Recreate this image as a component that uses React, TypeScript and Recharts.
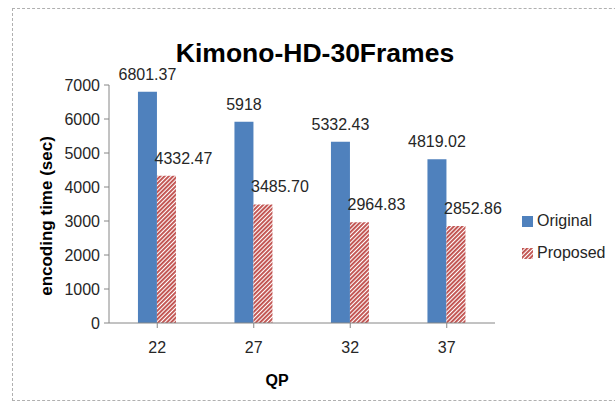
import React from 'react';
import { BarChart, Bar, XAxis, YAxis, LabelList } from 'recharts';

const categories = ['22', '27', '32', '37'];
const originalValues = [6801.37, 5918, 5332.43, 4819.02];
const proposedValues = [4332.47, 3485.7, 2964.83, 2852.86];
const yTicks = [0, 1000, 2000, 3000, 4000, 5000, 6000, 7000];

const data = categories.map((c, i) => ({
  qp: c,
  Original: originalValues[i],
  Proposed: proposedValues[i],
}));

const BLUE = '#4F81BD';
const RED = '#C0504D';
const FONT = "'Liberation Sans', Arial, sans-serif";

const fmt = (v: number) => (Number.isInteger(v) ? String(v) : v.toFixed(2));

const makeLabel = (dx: number) => (props: any) => {
  const { x, y, width, value } = props;
  return (
    <text
      x={Number(x) + Number(width) / 2 + dx}
      y={Number(y) - 12}
      textAnchor="middle"
      fontSize={16}
      fontFamily={FONT}
      fill="#262626"
    >
      {fmt(Number(value))}
    </text>
  );
};

export default function App() {
  return (
    <div style={{ position: 'absolute', left: 0, top: 0, width: 615, height: 408, background: '#fff', overflow: 'hidden', fontFamily: FONT }}>
      <div
        style={{
          position: 'absolute',
          left: 12,
          top: 8,
          width: 640,
          height: 393,
          border: '1px dashed #b0b0b0',
          boxSizing: 'border-box',
        }}
      />
      <div
        style={{
          position: 'absolute',
          left: 0,
          width: 630,
          top: 37,
          textAlign: 'center',
          fontFamily: FONT,
          fontWeight: 'bold',
          fontSize: 26.5,
          color: '#000',
          lineHeight: '32px',
        }}
      >
        Kimono-HD-30Frames
      </div>
      <div style={{ position: 'absolute', left: 0, top: 0 }}>
        <BarChart
          width={615}
          height={408}
          data={data}
          margin={{ top: 85, right: 120, bottom: 55, left: 0 }}
          barCategoryGap="30%"
          barGap={0}
        >
          <defs>
            <pattern id="hatch" patternUnits="userSpaceOnUse" width="3" height="3" patternTransform="rotate(45)">
              <rect width="3" height="3" fill="#fff" />
              <rect x="0" y="0" width="1.9" height="3" fill={RED} />
            </pattern>
          </defs>
          <XAxis
            dataKey="qp"
            height={30}
            stroke="#868686"
            tickSize={5}
            tickMargin={14}
            tick={{ fill: '#262626', fontSize: 16, fontFamily: FONT }}
            label={(p: any) => (
              <text x={277} y={386} textAnchor="middle" fontWeight="bold" fontSize={16} fontFamily={FONT} fill="#000">
                QP
              </text>
            )}
          />
          <YAxis
            width={109}
            domain={[0, 7000]}
            ticks={yTicks}
            interval={0}
            stroke="#868686"
            tickSize={5}
            tickMargin={4}
            tick={{ fill: '#262626', fontSize: 16, fontFamily: FONT }}
            label={(p: any) => (
              <text
                transform="translate(52,216) rotate(-90)"
                textAnchor="middle"
                fontWeight="bold"
                fontSize={17}
                fontFamily={FONT}
                fill="#000"
              >
                encoding time (sec)
              </text>
            )}
          />
          <Bar dataKey="Original" fill={BLUE} isAnimationActive={false}>
            <LabelList dataKey="Original" content={makeLabel(0)} />
          </Bar>
          <Bar dataKey="Proposed" fill="url(#hatch)" isAnimationActive={false}>
            <LabelList dataKey="Proposed" content={makeLabel(17)} />
          </Bar>
        </BarChart>
      </div>
      <div style={{ position: 'absolute', left: 522, top: 210, fontSize: 16, fontFamily: FONT, color: '#262626' }}>
        <div style={{ display: 'flex', alignItems: 'center', height: 22 }}>
          <span style={{ display: 'inline-block', width: 11, height: 11, background: BLUE, marginRight: 4 }} />
          Original
        </div>
        <div style={{ display: 'flex', alignItems: 'center', height: 22, marginTop: 10 }}>
          <svg width={11} height={11} style={{ marginRight: 4 }}>
            <rect width={11} height={11} fill="url(#hatch)" />
          </svg>
          Proposed
        </div>
      </div>
    </div>
  );
}
